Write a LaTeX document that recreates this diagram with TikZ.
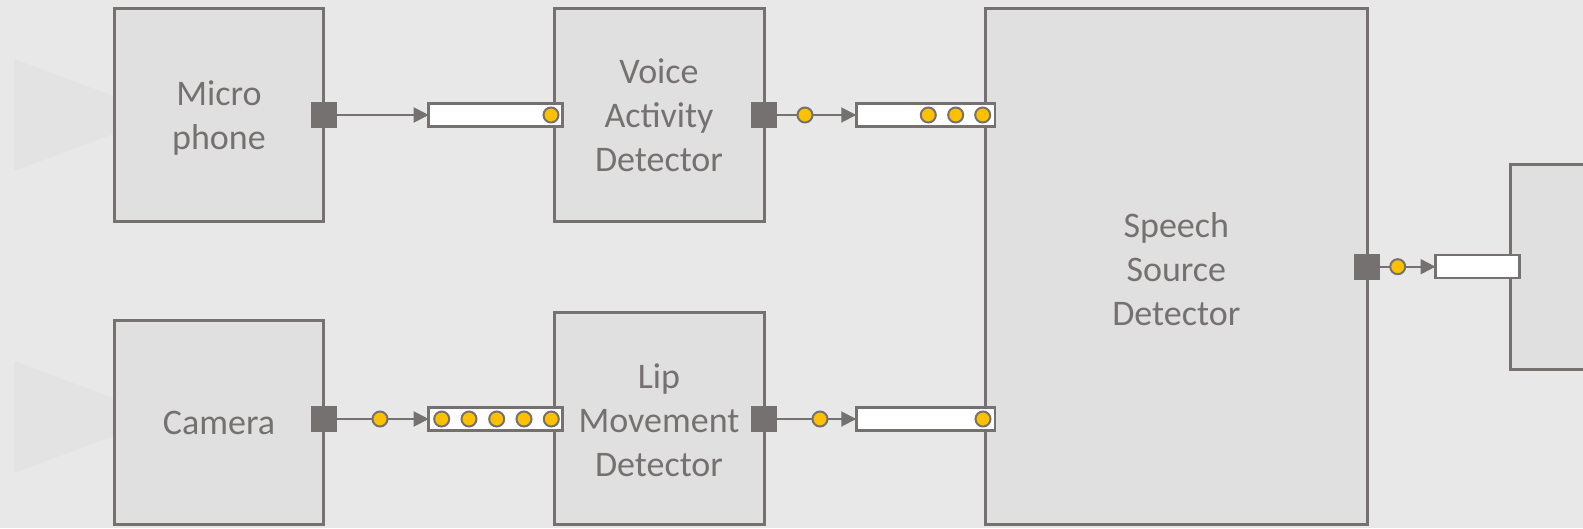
\documentclass[tikz,border=0pt]{standalone}
\usepackage{fontspec}
\setmainfont{Carlito}
\usetikzlibrary{arrows.meta}
\definecolor{bg}{RGB}{232,232,232}
\definecolor{boxfill}{RGB}{224,224,224}
\definecolor{tri}{RGB}{227,227,227}
\definecolor{gr}{RGB}{118,113,113}
\definecolor{yel}{RGB}{255,192,0}
\begin{document}
\begin{tikzpicture}[x=1pt,y=-1pt,
 block/.style={draw=gr, fill=boxfill, line width=3pt, inner sep=0pt},
 blocktext/.style={inner sep=0pt, text=gr, align=center, font=\fontsize{36}{44}\selectfont},
 port/.style={fill=gr, minimum size=26pt, inner sep=0pt, outer sep=0pt},
 buffer/.style={draw=gr, fill=white, line width=2.5pt, inner sep=0pt, outer sep=0pt, minimum height=23pt},
 dot/.style={circle, draw=gr, fill=yel, line width=2pt, minimum size=15pt, inner sep=0pt, outer sep=0pt},
 flow/.style={draw=gr, line width=2pt},
 arr/.style={flow, -{Triangle[length=15pt,width=15pt]}},
 horn/.style={fill=tri}
]
\useasboundingbox (0,0) rectangle (1583,528);
\fill[bg] (0,0) rectangle (1583,528);
% horns
\fill[horn] (14,59) -- (14,171) -- (164,115) -- cycle;
\fill[horn] (14,361) -- (14,473) -- (164,417) -- cycle;
% blocks
\node[block, minimum width=209.5pt, minimum height=213.6pt] (mic) at (219,115) {};
\node[block, minimum width=210pt, minimum height=213.6pt] (vad) at (659,115) {};
\node[block, minimum width=209.5pt, minimum height=204pt] (cam) at (219,422.5) {};
\node[block, minimum width=210pt, minimum height=212pt] (lip) at (659,418.5) {};
\node[block, minimum width=382pt, minimum height=516pt] (ssd) at (1176.3,266.4) {};
\node[block, minimum width=109pt, minimum height=205pt] (out) at (1565,266.7) {};
% block labels
\node[blocktext, yshift=-3.5pt] (micT) at (mic.center) {Micro\\phone};
\node[blocktext, yshift=-0.5pt] (vadT) at (vad.center) {Voice\\Activity\\Detector};
\node[blocktext] (camT) at (cam.center) {Camera};
\node[blocktext, yshift=-2pt] (lipT) at (lip.center) {Lip\\Movement\\Detector};
\node[blocktext, yshift=-2.5pt] (ssdT) at (ssd.center) {Speech\\Source\\Detector};
% ports
\node[port] (pmic) at (323.7,115) {};
\node[port] (pvad) at (764,115) {};
\node[port] (pcam) at (323.7,419) {};
\node[port] (plip) at (764,419) {};
\node[port] (pssd) at (1367.3,266.7) {};
% buffers
\node[buffer, minimum width=134pt] (bmic) at (495.7,115) {};
\node[buffer, minimum width=138.5pt] (bvad) at (925.5,115) {};
\node[buffer, minimum width=134pt] (bcam) at (495.7,419) {};
\node[buffer, minimum width=138.5pt] (blip) at (925.5,419) {};
\node[buffer, minimum width=84pt] (bssd) at (1477.5,266.7) {};
% tokens inside buffers
\node[dot] (t1) at (551,115) {};
\node[dot] (t2) at (928.3,115) {};
\node[dot] (t3) at (955.7,115) {};
\node[dot] (t4) at (982.7,115) {};
\node[dot] (t5) at (441.7,419) {};
\node[dot] (t6) at (469,419) {};
\node[dot] (t7) at (496.7,419) {};
\node[dot] (t8) at (524,419) {};
\node[dot] (t9) at (551.3,419) {};
\node[dot] (t10) at (983,419) {};
% tokens on the connectors
\node[dot] (dvad) at (805,115) {};
\node[dot] (dcam) at (380,419) {};
\node[dot] (dlip) at (820,419) {};
\node[dot] (dssd) at (1397.7,266.7) {};
% connectors
\draw[arr] (pmic.east) -- (pmic.east -| bmic.west);
\draw[flow] (pvad.east) -- (dvad.west);
\draw[arr] (dvad.east) -- (dvad.east -| bvad.west);
\draw[flow] (pcam.east) -- (dcam.west);
\draw[arr] (dcam.east) -- (dcam.east -| bcam.west);
\draw[flow] (plip.east) -- (dlip.west);
\draw[arr] (dlip.east) -- (dlip.east -| blip.west);
\draw[flow] (pssd.east) -- (dssd.west);
\draw[arr] (dssd.east) -- (dssd.east -| bssd.west);
\end{tikzpicture}
\end{document}
